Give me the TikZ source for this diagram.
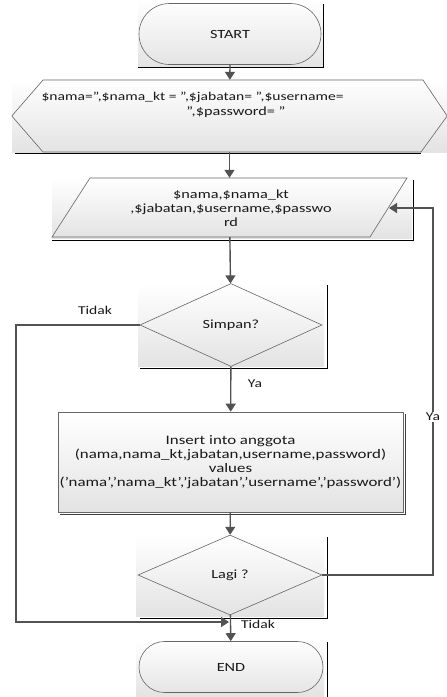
\documentclass[tikz,border=0pt]{standalone}
\usepackage{fontspec}
\setmainfont{Carlito}[FakeStretch=1.3]
\usetikzlibrary{arrows.meta,shapes.geometric,shapes.misc}
\begin{document}
\begin{tikzpicture}[x=1pt,y=-1pt,
  bg/.style={top color=white, bottom color=black!11, draw=none},
  frame/.style={draw=black, line width=0.8pt},
  outl/.style={draw=black!60, line width=0.6pt},
  arr/.style={draw=black!68, line width=1.4pt, -{Triangle[length=8pt,width=10pt]}},
  txt/.style={font=\fontsize{12.5}{14}\selectfont, align=center, text=black!90},
  lbl/.style={font=\fontsize{12}{13}\selectfont, text=black!90, inner sep=1pt}]
\useasboundingbox (0,0) rectangle (447,697);
\fill[white] (0,0) rectangle (447,697);

% START
\path[bg] (138,0) rectangle (323,67);
\draw[frame] (138,67) -- (323,67) -- (323,4);
\node[outl, rounded rectangle, minimum width=182pt, minimum height=61pt, inner sep=0, txt] (start) at (230,34) {START};

% init hexagon
\path[bg] (12,80) rectangle (447,152);
\draw[frame] (15,153) -- (421,153);
\node[minimum width=435pt, minimum height=72pt, inner sep=0] (init) at (229.5,116) {};
\draw[outl] (init.west) -- (43,80) -- (423,80) -- (init.east) -- (421,152) -- (43,152) -- cycle;
\node[txt, font=\fontsize{12}{14}\selectfont, anchor=west] (initT1) at (38,97) {\$nama=”,\$nama\_kt = ”,\$jabatan= ”,\$username=};
\node[txt] (initT2) at (236,112) {”,\$password= ”};

% input parallelogram
\path[bg] (52,178) rectangle (412,238);
\draw[frame] (52,240) -- (413,240) -- (413,180);
\node[minimum width=355pt, minimum height=59pt, inner sep=0] (inp) at (229.5,207.5) {};
\draw[outl] (90,178) -- (407,178) -- (370,237) -- (52,237) -- cycle;
\node[txt] (inpT) at (231,208) {\$nama,\$nama\_kt\\,\$jabatan,\$username,\$passwo\\rd};
\coordinate (inR) at (389,208);

% Simpan diamond
\path[bg] (138,284) rectangle (324,366);
\draw[frame] (140,368) -- (327,368) -- (327,285);
\node[outl, diamond, minimum width=182pt, minimum height=83pt, inner sep=0, txt] (simpan) at (231,325) {Simpan?};

% Insert rectangle
\draw[line width=1pt, black!75] (60,514) -- (405,514) -- (405,414);
\node[outl, minimum width=345pt, minimum height=100pt, inner sep=0, bg, draw=black!60, txt, font=\fontsize{13}{14}\selectfont] (ins) at (230.5,462) {Insert into anggota\\(nama,nama\_kt,jabatan,username,password)\\values\\(’nama’,’nama\_kt’,’jabatan’,’username’,’password’)};

% Lagi diamond
\path[bg] (136,535) rectangle (324,616);
\draw[frame] (140,618) -- (327,618) -- (327,537);
\node[outl, diamond, minimum width=184pt, minimum height=80pt, inner sep=0, txt] (lagi) at (230,575) {Lagi ?};

% END
\path[bg] (136,640) rectangle (324,697);
\draw[frame] (327,642) -- (327,697);
\node[outl, rounded rectangle, minimum width=184pt, minimum height=51pt, inner sep=0, txt] (endn) at (231,667) {END};

% connectors
\draw[arr] (start.south) -- (init);
\draw[arr] (init) -- (inp);
\draw[arr] (inp) -- (simpan);
\draw[arr] (simpan) -- (ins);
\node[lbl] (ya1) at (255,384) {Ya};
\draw[arr] (ins) -- (lagi);
\draw[arr] (lagi) -- (endn);
\node[lbl] (tidak2) at (258,624) {Tidak};
\coordinate (tj) at (229,622);
\draw[arr] (simpan.west) -- (16,325) -- (16,622) -- (tj);
\node[lbl] (tidak1) at (95,310) {Tidak};
\draw[arr] (lagi.east) -- (433,575) |- (inR);
\node[lbl, fill=white] (ya2) at (433,417) {Ya};
\end{tikzpicture}
\end{document}
